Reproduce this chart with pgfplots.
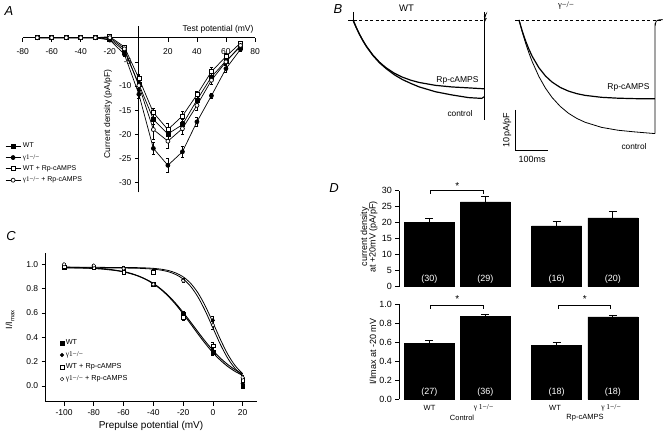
\documentclass[border=0pt]{standalone}
\usepackage{fontspec}
\setmainfont{Liberation Sans}
\newfontfamily\serifg{Liberation Serif}
\usepackage{pgfplots}
\pgfplotsset{compat=1.18}
\usepackage{pgfplotstable}
\newcommand{\fsz}[1]{\fontsize{#1}{#1}\selectfont}
\pgfplotsset{every axis/.append style={/pgf/number format/assume math mode=true,
  tick style={black, line width=0.6pt}, axis line style={line width=0.8pt}}}
\newcommand{\gko}{{\serifg γ1−/−}}

% Panel A data: x y err
\pgfplotstableread{
x y e
-70 0 0
-60 0 0
-50 0 0
-40 0 0
-30 0 0
-20 -0.3 0.2
-10 -2.7 0.4
0 -9.6 0.8
10 -16.9 1.0
20 -19.9 1.2
30 -18.0 1.1
40 -12.9 0.9
50 -8.1 0.7
60 -4.8 0.6
70 -1.9 0.4
}\tAwt
\pgfplotstableread{
x y e
-70 0 0
-60 0 0
-50 0 0
-40 0 0
-30 0 0
-20 -0.5 0.2
-10 -3.4 0.4
0 -11.7 0.8
10 -22.9 1.3
20 -26.4 1.4
30 -23.6 1.2
40 -17.4 0.9
50 -12.0 0.6
60 -6.4 0.8
70 -2.4 0.5
}\tAko
\pgfplotstableread{
x y e
-70 0 0
-60 0 0
-50 0 0
-40 0 0
-30 0 0
-20 0.2 0.2
-10 -1.9 0.4
0 -8.4 0.8
10 -15.5 1.0
20 -19.0 1.2
30 -16.2 1.0
40 -11.8 0.8
50 -7.0 0.8
60 -3.9 0.6
70 -1.1 0.4
}\tAwtrp
\pgfplotstableread{
x y e
-70 0 0
-60 0 0
-50 0 0
-40 0 0
-30 0 0
-20 0 0.2
-10 -2.3 0.4
0 -9.9 0.8
10 -19.0 2.0
20 -21.4 1.4
30 -18.8 1.2
40 -14.0 1.0
50 -8.8 0.8
60 -5.0 0.6
70 -1.6 0.4
}\tAkorp

% Panel C data
\pgfplotstableread{
x y e
-100 0.975 0.01
-80 0.975 0.01
-60 0.955 0.01
-40 0.835 0.015
-20 0.59 0.025
0 0.28 0.03
20 0.00 0.015
}\tCwt
\pgfplotstableread{
x y e
-100 0.975 0.01
-80 0.98 0.01
-60 0.97 0.01
-40 0.95 0.01
-20 0.87 0.015
0 0.54 0.03
20 0.02 0.015
}\tCko
\pgfplotstableread{
x y e
-100 0.98 0.01
-80 0.975 0.01
-60 0.935 0.01
-40 0.935 0.01
-20 0.565 0.025
0 0.33 0.03
20 0.05 0.015
}\tCwtrp
\pgfplotstableread{
x y e
-100 1.0 0.01
-80 0.99 0.01
-60 0.965 0.01
-40 0.835 0.01
-20 0.865 0.015
0 0.50 0.03
20 0.07 0.015
}\tCkorp

\begin{document}
\begin{tikzpicture}[x=1pt,y=1pt]
\path[use as bounding box, fill=white] (0,0) rectangle (666,431);

% ---------------- Panel A ----------------
\begin{axis}[
  at={(22.7pt,238.6pt)}, anchor=south west, scale only axis,
  width=232.3pt, height=166.4pt,
  xmin=-80, xmax=80, ymin=-32, ymax=2.42,
  axis lines=middle, axis line style={-},
  xtick={-80,-60,-40,-20,20,40,60,80},
  ytick={-30,-25,-20,-15,-10,-5},
  tick align=outside, major tick length=4pt,
  tick label style={font=\fsz{8.5}},
  x tick label style={yshift=-3pt},
  clip=false,
  legend style={at={(-0.076,0.309)}, anchor=north west, draw=none, fill=none,
    font=\fsz{7}, inner sep=0pt, row sep=1pt, cells={anchor=west}},
  legend cell align=left,
  legend image code/.code={\draw[mark repeat=2,mark phase=2,#1] plot coordinates {(0pt,0pt)(7.5pt,0pt)(15pt,0pt)};},
  every axis plot/.append style={black, line width=0.7pt, mark size=2pt},
  error bars/error bar style={line width=0.5pt, solid},
  error bars/error mark options={rotate=90, mark size=1.5pt, line width=0.5pt},
]
\addplot[black, line width=0.7pt, mark=square*, mark options={fill=black}, error bars/.cd, y dir=both, y explicit] table[x=x,y=y,y error=e] {\tAwt};
\addlegendentry{WT}
\addplot[black, line width=0.7pt, mark=*, mark options={fill=black}, error bars/.cd, y dir=both, y explicit] table[x=x,y=y,y error=e] {\tAko};
\addlegendentry{\gko}
\addplot[black, line width=0.7pt, mark=square*, mark options={fill=white}, error bars/.cd, y dir=both, y explicit] table[x=x,y=y,y error=e] {\tAwtrp};
\addlegendentry{WT + Rp-cAMPS}
\addplot[black, line width=0.7pt, mark=*, mark options={fill=white}, error bars/.cd, y dir=both, y explicit] table[x=x,y=y,y error=e] {\tAkorp};
\addlegendentry{\gko{} + Rp-cAMPS}
\end{axis}
\node[font=\fsz{8.5}, anchor=east] at (257,402) {Test potential (mV)};
\node[font=\fsz{8.5}, rotate=90] at (108,317) {Current density (pA/pF)};
\node[font=\itshape\fsz{13}] at (9,420) {A};

% ---------------- Panel B ----------------
\begin{axis}[at={(346.4pt,299pt)}, anchor=south west, scale only axis,
  width=145.2pt, height=128pt, xmin=-20, xmax=420, ymin=-28, ymax=4,
  hide axis, clip=false]
\addplot[black, line width=0.6pt, dashed, dash pattern=on 3pt off 2.5pt] coordinates {(-15,0) (394,0)};
\addplot[black, line width=0.8pt] coordinates {(-15,0) (3,0)};
\addplot[black, line width=0.8pt] coordinates {(0,2) (0,-0.5)};
\addplot[black, line width=1.2pt] coordinates {(0,0)(10,-1.91)(20,-3.62)(30,-5.13)(40,-6.48)(60,-8.73)(80,-10.52)(100,-11.93)(125,-13.29)(150,-14.30)(175,-15.05)(200,-15.61)(250,-16.34)(300,-16.74)(350,-16.97)(397,-17.2)};
\addplot[black, line width=1.2pt] coordinates {(0,0)(10,-1.93)(20,-3.66)(30,-5.19)(40,-6.56)(60,-8.85)(80,-10.68)(100,-12.13)(125,-13.69)(150,-14.90)(175,-15.85)(200,-16.71)(250,-17.94)(300,-18.74)(350,-19.4)(390,-19.6)(397,-19.2)};
\addplot[black, line width=0.8pt] coordinates {(397,-25) (397,2)};
\addplot[black, line width=0.6pt] coordinates {(397,0.8)(404,1.6)(398,0.2)(404,0.4)(398,-0.6)};
\end{axis}
\node[font=\fsz{9.5}] at (406.5,423) {WT};
\node[font=\fsz{8.5}, anchor=east] at (482,351) {Rp-cAMPS};
\node[font=\fsz{8.3}] at (460,317) {control};
\node[font=\itshape\fsz{13}] at (338,422) {B};

\begin{axis}[at={(512.4pt,267pt)}, anchor=south west, scale only axis,
  width=151.8pt, height=160pt, xmin=-20, xmax=440, ymin=-36, ymax=4,
  hide axis, clip=false]
\addplot[black, line width=0.6pt, dashed, dash pattern=on 3pt off 2.5pt] coordinates {(-12,0) (433,0)};
\addplot[black, line width=0.8pt] coordinates {(-12,0) (3,0)};
\addplot[black, line width=1.2pt] coordinates {(0,0)(10,-2.82)(20,-5.23)(30,-7.30)(40,-9.08)(60,-11.90)(80,-13.98)(100,-15.51)(125,-16.86)(150,-17.78)(175,-18.41)(200,-18.84)(250,-19.33)(300,-19.55)(350,-19.66)(412,-19.71)};
\addplot[black, line width=0.8pt] coordinates {(0,0)(10,-3.06)(20,-5.79)(30,-8.23)(40,-10.41)(60,-14.09)(80,-17.02)(100,-19.35)(125,-21.61)(150,-23.32)(175,-24.60)(200,-25.56)(250,-26.84)(300,-27.56)(350,-27.97)(412,-28.4)};
\addplot[black, line width=0.8pt, smooth] coordinates {(412,-28.4)(412,-3)(413,-1.2)(416,-0.3)(422,0)(435,0.1)};
\draw[black, line width=0.7pt] (axis cs:-12,-22.5) -- (axis cs:-12,-32.5) -- (axis cs:88,-32.5);
\end{axis}
\node[font=\fsz{8.5}] at (566,425) {\serifg γ−/−};
\node[font=\fsz{8.5}, anchor=east] at (653,344) {Rp-cAMPS};
\node[font=\fsz{8.3}] at (634,284) {control};
\node[font=\fsz{9}, rotate=90] at (507,301) {10pA/pF};
\node[font=\fsz{9}] at (532,272) {100ms};

% ---------------- Panel C ----------------
\begin{axis}[at={(45.7pt,29.3pt)}, anchor=south west, scale only axis,
  width=211pt, height=149pt, xmin=-112.3, xmax=29.4, ymin=-0.129, ymax=1.095,
  axis lines=left, axis line style={-},
  tick align=outside, major tick length=4pt,
  xtick={-100,-80,-60,-40,-20,0,20}, ytick={0,0.2,0.4,0.6,0.8,1.0},
  yticklabel style={/pgf/number format/.cd, fixed, fixed zerofill, precision=1},
  tick label style={font=\fsz{8.5}},
  clip=false,
  legend style={at={(0.068,0.43)}, anchor=north west, draw=none, fill=none,
    font=\fsz{7.3}, inner sep=0pt, row sep=1.5pt, cells={anchor=west}},
  legend cell align=left,
  error bars/error bar style={line width=0.5pt, solid},
  error bars/error mark options={rotate=90, mark size=1.5pt, line width=0.5pt},
]
\addplot[black, line width=0.9pt, smooth, forget plot] coordinates {(-100,0.9725)(-95,0.9715)(-90,0.970)(-85,0.968)(-80,0.965)(-75,0.961)(-70,0.955)(-65,0.948)(-60,0.937)(-55,0.922)(-50,0.902)(-45,0.875)(-40,0.839)(-35,0.794)(-30,0.737)(-25,0.670)(-20,0.593)(-15,0.511)(-10,0.427)(-5,0.347)(0,0.274)(5,0.212)(10,0.160)(15,0.119)(20,0.0874)};
\addplot[black, line width=0.9pt, smooth, forget plot] coordinates {(-100,0.977)(-90,0.974)(-80,0.969)(-70,0.959)(-60,0.940)(-55,0.925)(-50,0.904)(-45,0.877)(-40,0.843)(-35,0.798)(-30,0.744)(-25,0.679)(-20,0.605)(-15,0.526)(-10,0.444)(-5,0.365)(0,0.293)(5,0.229)(10,0.176)(15,0.133)(20,0.0989)};
\addplot[black, line width=0.8pt, smooth, forget plot] coordinates {(-100,0.970)(-80,0.970)(-70,0.970)(-60,0.969)(-55,0.968)(-50,0.967)(-45,0.964)(-40,0.960)(-35,0.952)(-30,0.939)(-25,0.916)(-20,0.879)(-15,0.819)(-10,0.730)(-5,0.613)(0,0.477)(5,0.342)(10,0.227)(15,0.1425)(20,0.0858)};
\addplot[black, line width=0.8pt, smooth, forget plot] coordinates {(-100,0.975)(-80,0.975)(-70,0.974)(-60,0.974)(-50,0.972)(-45,0.970)(-40,0.9665)(-35,0.960)(-30,0.949)(-25,0.929)(-20,0.897)(-15,0.844)(-10,0.764)(-5,0.654)(0,0.521)(5,0.383)(10,0.260)(15,0.166)(20,0.1007)};
\addplot[black, only marks, mark=square*, mark size=1.8pt, mark options={fill=black}, error bars/.cd, y dir=both, y explicit] table[x=x,y=y,y error=e] {\tCwt};
\addlegendentry{WT}
\addplot[black, only marks, mark=*, mark size=1.8pt, mark options={fill=black}, error bars/.cd, y dir=both, y explicit] table[x=x,y=y,y error=e] {\tCko};
\addlegendentry{\gko}
\addplot[black, only marks, mark=square*, mark size=1.8pt, mark options={fill=white}, error bars/.cd, y dir=both, y explicit] table[x=x,y=y,y error=e] {\tCwtrp};
\addlegendentry{WT + Rp-cAMPS}
\addplot[black, only marks, mark=*, mark size=1.8pt, mark options={fill=white}, error bars/.cd, y dir=both, y explicit] table[x=x,y=y,y error=e] {\tCkorp};
\addlegendentry{\gko{} + Rp-cAMPS}
\end{axis}
\node[font=\fsz{10}] at (151,5.5) {Prepulse potential (mV)};
\node[font=\fsz{9}, rotate=90] at (10,111) {I/I\raisebox{-0.5ex}{\fsz{6}max}};
\node[font=\itshape\fsz{13}] at (11,195) {C};

% ---------------- Panel D ----------------
\begin{axis}[at={(399.3pt,144.3pt)}, anchor=south west, scale only axis,
  width=241.5pt, height=96pt, xmin=-0.536, xmax=3.77, ymin=0, ymax=30,
  axis x line=none, axis y line=left, axis line style={-},
  ytick={0,5,10,15,20,25,30}, tick align=outside, major tick length=4pt,
  tick label style={font=\fsz{9}}, clip=false]
\addplot[ybar, bar width=50pt, fill=black, draw=black,
  error bars/.cd, y dir=plus, y explicit,
  error bar style={black, line width=0.7pt},
  error mark options={rotate=90, mark size=4pt, black, line width=0.7pt}]
  coordinates {(0,20) +- (0,1.5) (1,26.5) +- (0,1.7) (2.27,19) +- (0,1.3) (3.27,21.5) +- (0,2)};
\node[white, font=\fsz{9}] at (axis cs:0,2.4) {(30)};
\node[white, font=\fsz{9}] at (axis cs:1,2.4) {(29)};
\node[white, font=\fsz{9}] at (axis cs:2.27,2.4) {(16)};
\node[white, font=\fsz{9}] at (axis cs:3.27,2.4) {(20)};
\draw[line width=0.6pt] (axis cs:0.014,29) -- (axis cs:0.014,30) -- (axis cs:0.959,30) -- (axis cs:0.959,29);
\node[font=\fsz{10}] at (axis cs:0.5,31.6) {*};
\end{axis}
\node[font=\fsz{9}, rotate=90, align=center, execute at begin node=\setlength{\baselineskip}{8.5pt}] at (369,194.3) {current density\\at +20mV (pA/pF)};
\node[font=\itshape\fsz{13}] at (334,243) {D};

\begin{axis}[at={(399.3pt,31.7pt)}, anchor=south west, scale only axis,
  width=241.5pt, height=95.3pt, xmin=-0.536, xmax=3.77, ymin=0, ymax=1,
  axis x line=none, axis y line=left, axis line style={-},
  ytick={0,0.2,0.4,0.6,0.8,1.0},
  yticklabel style={/pgf/number format/.cd, fixed, fixed zerofill, precision=1},
  tick align=outside, major tick length=4pt,
  tick label style={font=\fsz{9}}, clip=false]
\addplot[ybar, bar width=50pt, fill=black, draw=black,
  error bars/.cd, y dir=plus, y explicit,
  error bar style={black, line width=0.7pt},
  error mark options={rotate=90, mark size=4pt, black, line width=0.7pt}]
  coordinates {(0,0.585) +- (0,0.035) (1,0.87) +- (0,0.02) (2.27,0.565) +- (0,0.03) (3.27,0.865) +- (0,0.02)};
\node[white, font=\fsz{9}] at (axis cs:0,0.07) {(27)};
\node[white, font=\fsz{9}] at (axis cs:1,0.07) {(36)};
\node[white, font=\fsz{9}] at (axis cs:2.27,0.07) {(18)};
\node[white, font=\fsz{9}] at (axis cs:3.27,0.07) {(18)};
\draw[line width=0.6pt] (axis cs:0.014,0.95) -- (axis cs:0.014,0.986) -- (axis cs:0.959,0.986) -- (axis cs:0.959,0.95);
\node[font=\fsz{10}] at (axis cs:0.5,1.055) {*};
\draw[line width=0.6pt] (axis cs:2.29,0.95) -- (axis cs:2.29,0.986) -- (axis cs:3.22,0.986) -- (axis cs:3.22,0.95);
\node[font=\fsz{10}] at (axis cs:2.77,1.055) {*};
\end{axis}
\node[font=\fsz{9}, rotate=90] at (373,79.3) {I/Imax at -20 mV};
\node[font=\fsz{7.5}] at (429.5,23) {WT};
\node[font=\fsz{7.5}] at (483.5,23) {\serifg γ 1−/−};
\node[font=\fsz{7.5}] at (555,23) {WT};
\node[font=\fsz{7.5}] at (611,23) {\serifg γ 1−/−};
\node[font=\fsz{7.5}] at (462,13) {Control};
\node[font=\fsz{7.5}] at (585,13) {Rp-cAMPS};
\end{tikzpicture}
\end{document}
